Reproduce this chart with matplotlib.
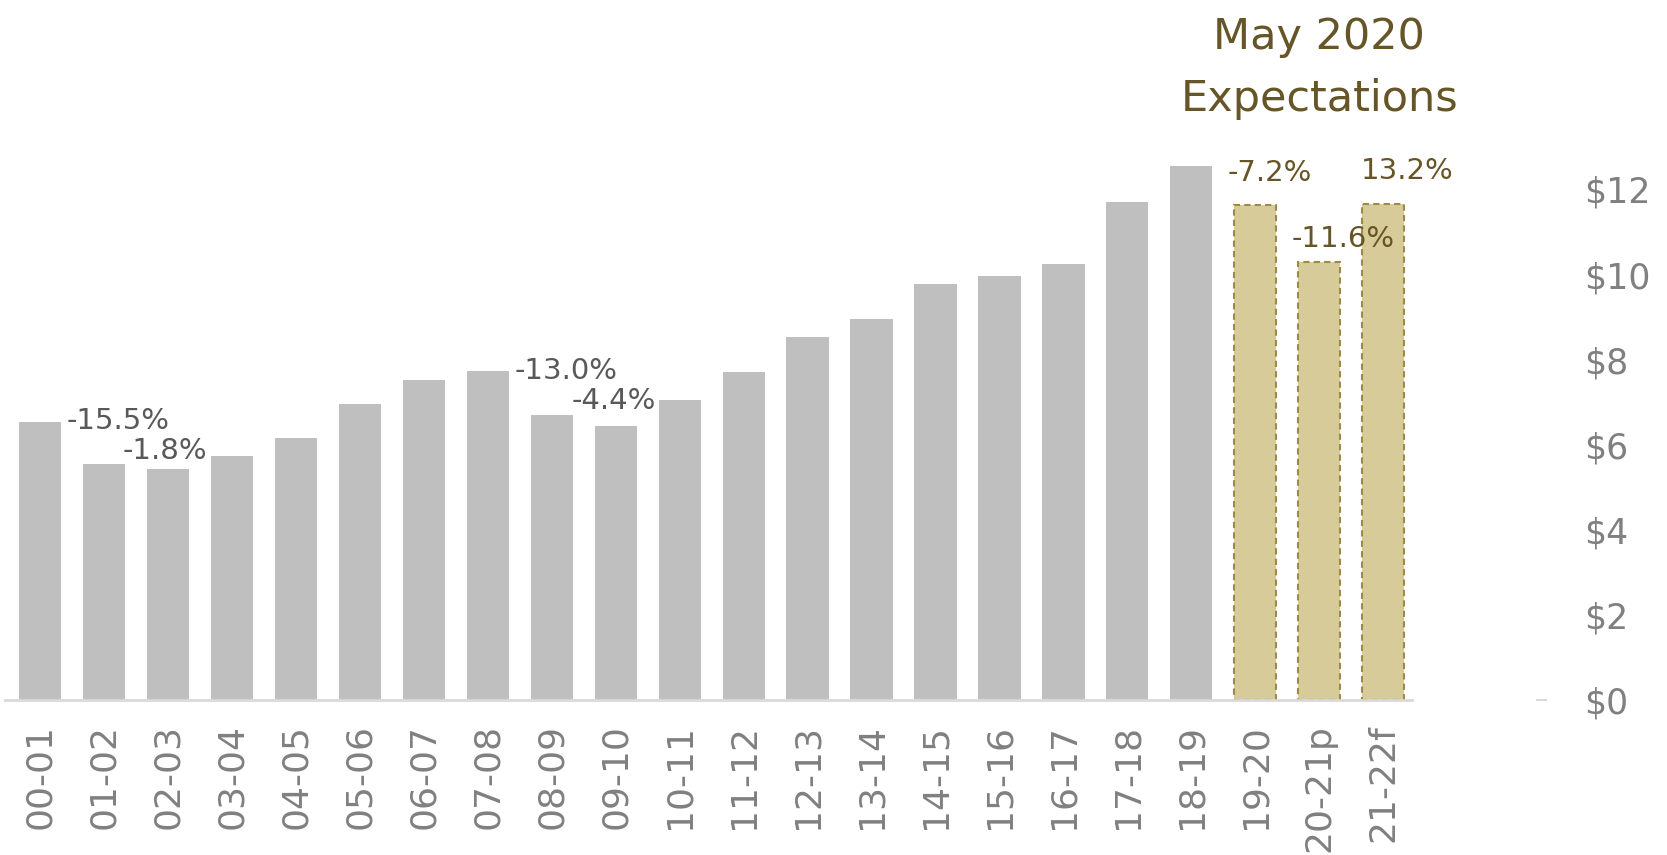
import matplotlib
matplotlib.use("Agg")
import matplotlib.pyplot as plt
import numpy as np

years = ["00-01", "01-02", "02-03", "03-04", "04-05", "05-06", "06-07", "07-08",
         "08-09", "09-10", "10-11", "11-12", "12-13", "13-14", "14-15", "15-16",
         "16-17", "17-18", "18-19", "19-20", "20-21p", "21-22f"]
values = [6.54, 5.54, 5.44, 5.74, 6.16, 6.96, 7.53, 7.73, 6.71, 6.44, 7.06, 7.71,
          8.53, 8.96, 9.78, 9.96, 10.25, 11.70, 12.55, 11.63, 10.30, 11.65]
n_forecast = 3

change_idx = [1, 2, 8, 9, 19, 20, 21]
change_text = ["-15.5%", "-1.8%", "-13.0%", "-4.4%", "-7.2%", "-11.6%", "13.2%"]

y_ticks = [0, 2, 4, 6, 8, 10, 12]
y_labels = ["$0", "$2", "$4", "$6", "$8", "$10", "$12"]

# label nudges (bar units, points)
label_dx = [0.22, -0.05, 0.23, -0.03, 0.23, 0.38, 0.37]
label_dy = [21, 3, 21, 8, 13, 6, 14]

GRAY = "#bfbfbf"
GOLD_FILL = "#d8cb9a"
GOLD_EDGE = "#9c8b45"
OLIVE = "#665526"
TICK_GRAY = "#808080"
LABEL_GRAY = "#595959"

plt.rcParams["font.family"] = ["DejaVu Sans"]

fig = plt.figure(figsize=(16.67, 8.55), dpi=100)
ax = fig.add_axes([0.003, 0.181, 0.844, 0.697])

x = np.arange(len(years))
n_hist = len(years) - n_forecast
ax.bar(x[:n_hist], values[:n_hist], width=0.66, color=GRAY)
ax.bar(x[n_hist:], values[n_hist:], width=0.66, color=GOLD_FILL,
       edgecolor=GOLD_EDGE, linestyle=(0, (3, 2)), linewidth=1.5)

for i, txt, dx, dy in zip(change_idx, change_text, label_dx, label_dy):
    color = OLIVE if i >= n_hist else LABEL_GRAY
    ax.annotate(txt, (i + dx, values[i]), xytext=(0, dy), textcoords="offset points",
                ha="center", va="bottom", fontsize=21, color=color, annotation_clip=False)

ax.text(len(years) - 2, 13.85, "Expectations", ha="center", va="baseline",
        fontsize=31, color=OLIVE, clip_on=False)
ax.text(len(years) - 2, 15.3, "May 2020", ha="center", va="baseline",
        fontsize=31, color=OLIVE, clip_on=False)

ax.set_xlim(-0.55, len(years) - 0.55)
ax.set_ylim(0, 14)
ax.set_xticks(x)
ax.set_xticklabels(years, rotation=90, fontsize=26, color=TICK_GRAY, va="top", ha="center")
ax.tick_params(axis="x", length=0, pad=17)

# right value axis sits well away from the bars; small dash marks $0
ax.yaxis.tick_right()
ax.yaxis.remove_overlapping_locs = False
ax.spines["right"].set_position(("outward", 89))
ax.set_yticks(y_ticks)
ax.set_yticklabels(y_labels, fontsize=25, color=TICK_GRAY, ha="left")
ax.tick_params(axis="y", which="major", length=0, pad=35)
ax.set_yticks([0], minor=True)
ax.tick_params(axis="y", which="minor", length=8, width=1.5, color="#d9d9d9", direction="out")

for side in ["top", "left", "right"]:
    ax.spines[side].set_visible(False)
ax.spines["bottom"].set_color("#d9d9d9")
ax.spines["bottom"].set_linewidth(2)

fig.savefig("out.png", dpi=100)
